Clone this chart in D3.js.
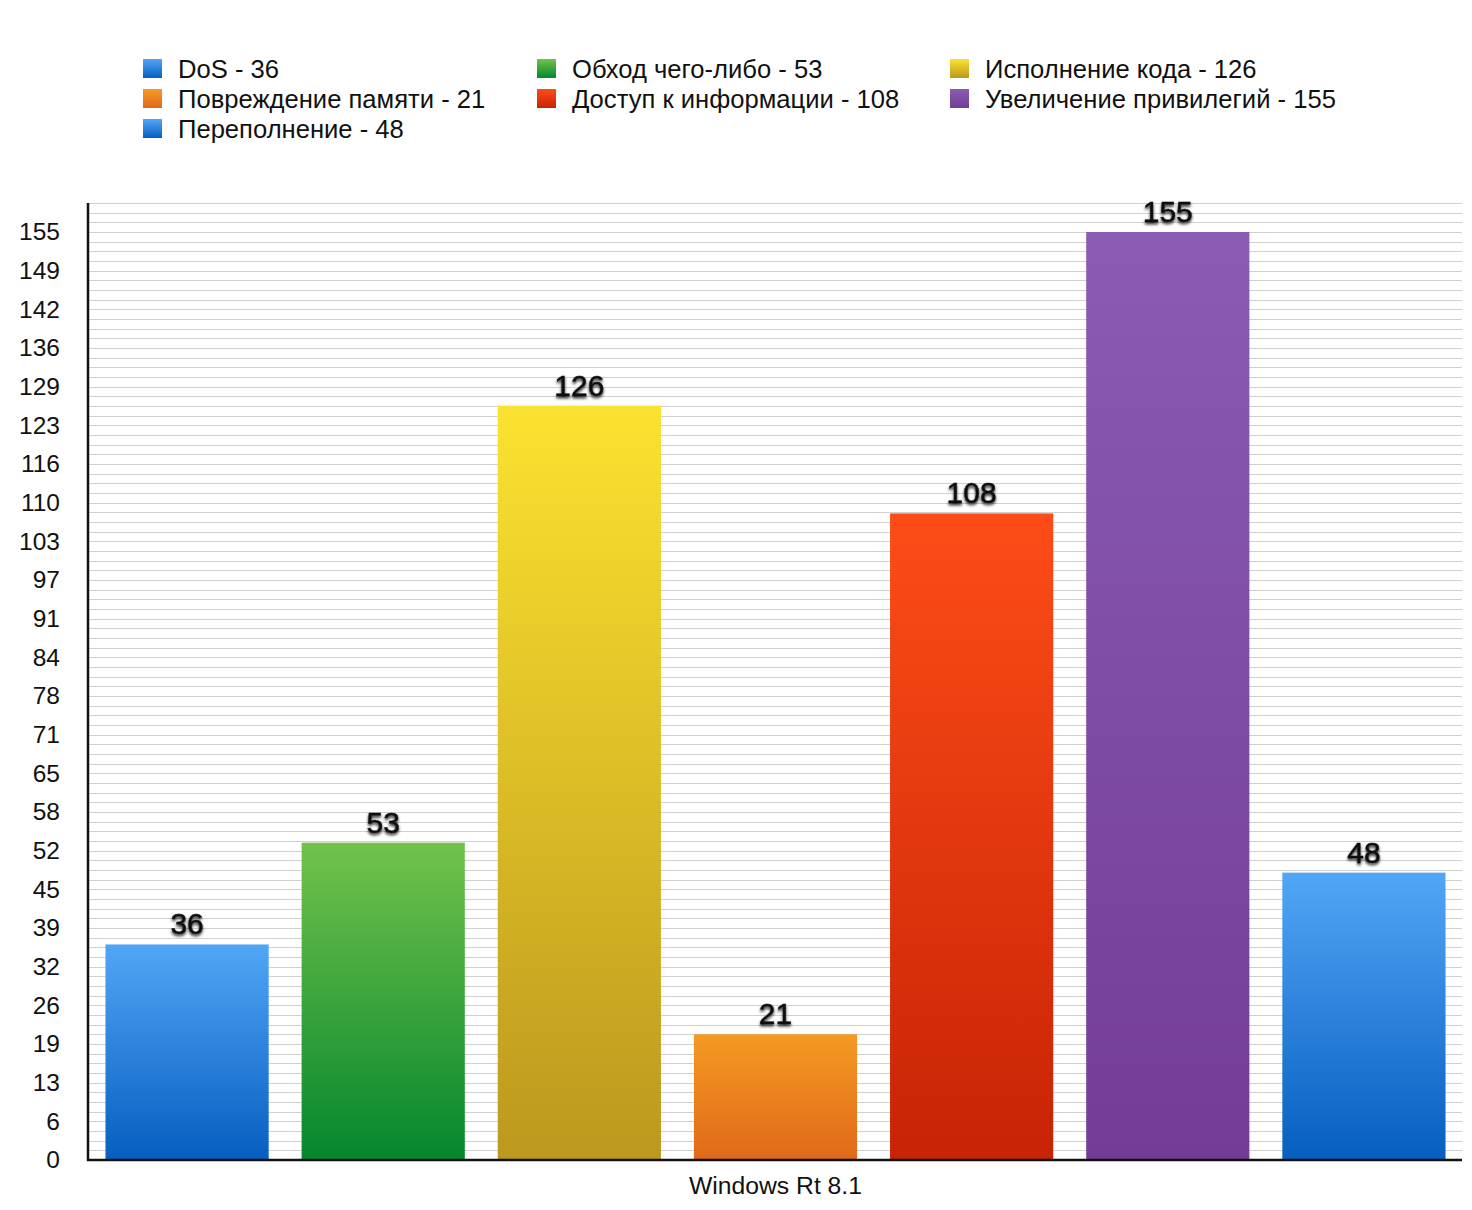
<!DOCTYPE html>
<html>
<head>
<meta charset="utf-8">
<script src="https://cdn.jsdelivr.net/npm/d3@7"></script>
<style>
html,body{margin:0;padding:0;background:#fff;}
svg{display:block;}
text{font-family:"Liberation Sans",Arial,Helvetica,sans-serif;}
</style>
</head>
<body>
<svg id="chart" width="1472" height="1210"></svg>
<script>
const categories = ["DoS", "Обход чего-либо", "Исполнение кода", "Повреждение памяти", "Доступ к информации", "Увеличение привилегий", "Переполнение"];
const values = [36, 53, 126, 21, 108, 155, 48];
const colorsTop = ["#52a6f6", "#72c24c", "#fbe22f", "#f49a22", "#fd4c17", "#8a5cb3", "#52a6f6"];
const colorsBottom = ["#065ec0", "#04872d", "#bc981e", "#e0691a", "#c82306", "#733c97", "#065ec0"];
const tickLabels = ["0","6","13","19","26","32","39","45","52","58","65","71","78","84","91","97","103","110","116","123","129","136","142","149","155"];
const groupLabel = "Windows Rt 8.1";

const svg = d3.select("#chart");
const margin = {left: 89, right: 1462, top: 203, bottom: 1160};
const maxTick = 155;
const minor = maxTick / 96;
const yMax = minor * 99;

const y = d3.scaleLinear().domain([0, yMax]).range([margin.bottom, margin.top]);
const x = d3.scaleBand().domain(categories).range([margin.left, margin.right]).paddingInner(0.168).paddingOuter(0.084);

const defs = svg.append("defs");
categories.forEach((c, i) => {
  const g = defs.append("linearGradient").attr("id", "g" + i).attr("x1", 0).attr("y1", 0).attr("x2", 0).attr("y2", 1);
  g.append("stop").attr("offset", "0%").attr("stop-color", colorsTop[i]);
  g.append("stop").attr("offset", "100%").attr("stop-color", colorsBottom[i]);
});
const f = defs.append("filter").attr("id", "shadow").attr("x", "-30%").attr("y", "-30%").attr("width", "160%").attr("height", "170%");
f.append("feDropShadow").attr("dx", 0).attr("dy", 2).attr("stdDeviation", 1.8).attr("flood-color", "#000").attr("flood-opacity", 0.9);

// gridlines
const grid = d3.range(1, 100).map(i => i * minor);
svg.append("g").selectAll("line").data(grid).join("line")
  .attr("x1", margin.left).attr("x2", margin.right)
  .attr("y1", d => Math.round(y(d)) + 0.5).attr("y2", d => Math.round(y(d)) + 0.5)
  .attr("stroke", "#d0d0d0").attr("stroke-width", 1);

// bars
svg.append("g").selectAll("rect").data(values).join("rect")
  .attr("x", (d, i) => x(categories[i]))
  .attr("width", x.bandwidth())
  .attr("y", d => y(d))
  .attr("height", d => y(0) - y(d))
  .attr("fill", (d, i) => `url(#g${i})`);

// value labels
svg.append("g").selectAll("text").data(values).join("text")
  .attr("x", (d, i) => x(categories[i]) + x.bandwidth() / 2)
  .attr("y", d => y(d) - 10)
  .attr("text-anchor", "middle")
  .attr("font-size", 30)
  .attr("fill", "#111")
  .attr("stroke", "#111").attr("stroke-width", 0.4)
  .attr("filter", "url(#shadow)")
  .text(d => d);

// y axis
const tickVals = tickLabels.map((t, i) => i * maxTick / 24);
const yAxis = d3.axisLeft(y).tickValues(tickVals).tickSize(0).tickPadding(29)
  .tickFormat((d, i) => tickLabels[i]);
const ya = svg.append("g").attr("transform", `translate(${margin.left},0)`).call(yAxis);
ya.select(".domain").remove();
ya.selectAll("text").attr("font-size", 24.5).attr("fill", "#111").attr("font-family", "Liberation Sans, Arial, sans-serif");

svg.append("line").attr("x1", 88).attr("x2", 88).attr("y1", margin.top).attr("y2", margin.bottom + 1)
  .attr("stroke", "#111").attr("stroke-width", 2.5);
svg.append("line").attr("x1", 87).attr("x2", margin.right).attr("y1", margin.bottom).attr("y2", margin.bottom)
  .attr("stroke", "#111").attr("stroke-width", 2.5);

// x label
svg.append("text").attr("x", (margin.left + margin.right) / 2).attr("y", 1194)
  .attr("text-anchor", "middle").attr("font-size", 24.7).attr("fill", "#111").text(groupLabel);

// legend
const legCols = [143, 537, 950];
const leg = svg.append("g").selectAll("g").data(categories).join("g")
  .attr("transform", (d, i) => `translate(${legCols[i % 3]},${59 + Math.floor(i / 3) * 30})`);
leg.append("rect").attr("width", 19).attr("height", 19).attr("fill", (d, i) => `url(#g${i})`);
leg.append("text").attr("x", 35).attr("y", 18.5).attr("font-size", 25.6).attr("fill", "#111")
  .text((d, i) => `${d} - ${values[i]}`);
</script>
</body>
</html>
